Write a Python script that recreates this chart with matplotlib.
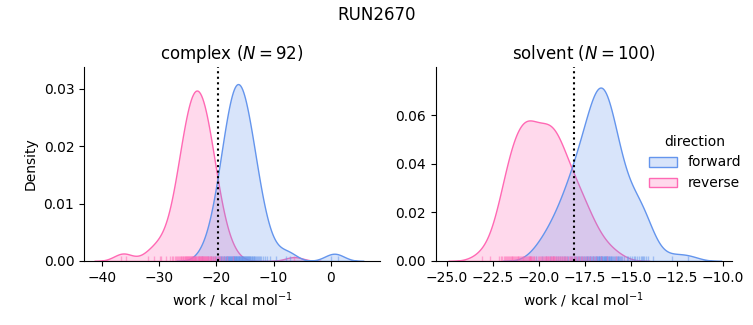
import matplotlib
matplotlib.use("Agg")
import matplotlib.pyplot as plt
import pandas as pd
import seaborn as sns

run_name = "RUN2670"
phases = ["complex", "solvent"]
directions = ["forward", "reverse"]
palette = {"forward": "cornflowerblue", "reverse": "hotpink"}

complex_forward = [
    -22.47, -21.44, -20.90, -20.53, -20.23, -19.98, -19.76, -19.57, -19.39, -19.24,
    -19.09, -18.95, -18.82, -18.70, -18.59, -18.47, -18.37, -18.26, -18.17, -18.06,
    -17.97, -17.88, -17.79, -17.71, -17.62, -17.53, -17.45, -17.37, -17.29, -17.22,
    -17.13, -17.06, -16.99, -16.91, -16.83, -16.75, -16.69, -16.61, -16.54, -16.47,
    -16.40, -16.32, -16.26, -16.19,
    -16.11, -16.03, -15.97, -15.89, -15.81, -15.74, -15.67, -15.58, -15.52, -15.43,
    -15.35, -15.28, -15.19, -15.12, -15.03, -14.95, -14.87, -14.79, -14.70, -14.60,
    -14.52, -14.42, -14.34, -14.23, -14.14, -14.03, -13.93, -13.82, -13.71, -13.59,
    -13.47, -13.35, -13.20, -13.07, -12.91, -12.74, -12.56, -12.36, -12.13, -11.87,
    -11.55, -11.16, -10.59, -9.52,
    -7.85, -7.05, -0.02, 1.26,
]
complex_reverse = [
    -29.74, -28.72, -28.17, -27.80, -27.49, -27.25, -27.02, -26.84, -26.66, -26.50,
    -26.35, -26.22, -26.09, -25.96, -25.85, -25.73, -25.63, -25.53, -25.41, -25.32,
    -25.23, -25.14, -25.05, -24.95, -24.87, -24.79, -24.71, -24.62, -24.55, -24.47,
    -24.38, -24.32, -24.24, -24.16, -24.08, -24.01, -23.94, -23.86, -23.80, -23.72,
    -23.65, -23.58, -23.51,
    -23.29, -23.22, -23.15, -23.08, -23.00, -22.95, -22.86, -22.79, -22.72, -22.64,
    -22.56, -22.48, -22.42, -22.33, -22.25, -22.17, -22.09, -22.01, -21.93, -21.85,
    -21.75, -21.67, -21.57, -21.48, -21.39, -21.27, -21.18, -21.07, -20.95, -20.84,
    -20.71, -20.58, -20.45, -20.30, -20.14, -19.96, -19.78, -19.55, -19.31, -19.00,
    -18.63, -18.08, -17.06,
    -36.70, -35.80, -32.00, -30.90, -29.90, -6.40,
]
solvent_forward = [
    -20.15, -19.82, -19.58, -19.41, -19.24, -19.08,
    -18.94, -18.84, -18.74, -18.64, -18.55,
    -18.46, -18.39, -18.32, -18.25, -18.18, -18.11, -18.04,
    -17.97, -17.92, -17.86, -17.81, -17.75, -17.70, -17.64, -17.59, -17.53,
    -17.48, -17.44, -17.40, -17.36, -17.32, -17.28, -17.24, -17.19, -17.15, -17.11,
    -17.07, -17.03,
    -16.98, -16.95, -16.91, -16.88, -16.85, -16.81, -16.78, -16.75, -16.71, -16.70,
    -16.68, -16.64, -16.61, -16.60, -16.58, -16.55, -16.52,
    -16.48, -16.44, -16.41, -16.40, -16.37, -16.34, -16.30, -16.27, -16.23,
    -16.19, -16.16, -16.12, -16.09, -16.05, -16.02,
    -15.97, -15.92, -15.87, -15.82, -15.77, -15.72, -15.67, -15.62, -15.57, -15.52,
    -15.46, -15.38, -15.21, -15.13, -15.05,
    -14.95, -14.85, -14.76, -14.66, -14.56,
    -14.46, -14.40, -14.36, -14.27, -14.17, -14.07,
    -13.78, -12.74, -11.88,
]
solvent_reverse = [
    -23.10, -22.62, -22.14, -22.05,
    -21.97, -21.91, -21.85, -21.80, -21.74, -21.68, -21.62, -21.57, -21.52,
    -21.47, -21.43, -21.38, -21.34, -21.29, -21.24, -21.20,
    -21.15, -21.11, -21.06, -21.02,
    -20.97, -20.92, -20.87, -20.83, -20.78, -20.73, -20.68, -20.64, -20.59, -20.55,
    -20.51, -20.50,
    -20.47, -20.46, -20.43, -20.42, -20.38, -20.33, -20.28, -20.23, -20.13, -20.05,
    -20.01,
    -19.95, -19.89, -19.84, -19.78, -19.73, -19.68, -19.63, -19.58, -19.54, -19.51,
    -19.47, -19.43, -19.39, -19.35, -19.31, -19.27, -19.23, -19.20, -19.18, -19.15,
    -19.13, -19.08, -19.03,
    -18.97, -18.91, -18.86, -18.80, -18.75, -18.69, -18.63, -18.58, -18.52,
    -18.45, -18.38, -18.31, -18.24, -18.17, -18.10, -18.03,
    -17.95, -17.87, -17.79, -17.71, -17.63, -17.55,
    -17.43, -17.31, -17.19, -17.07, -16.88, -16.64, -16.27, -15.80,
]

# free energy estimate shown as dotted line
delta_g = {"complex": -19.75, "solvent": -18.10}
xlims = {"complex": (-43.1, 8.6), "solvent": (-25.58, -9.51)}
ylims = {"complex": (0, 0.0338), "solvent": (0, 0.0799)}

works = {
    ("complex", "forward"): complex_forward,
    ("complex", "reverse"): complex_reverse,
    ("solvent", "forward"): solvent_forward,
    ("solvent", "reverse"): solvent_reverse,
}
rows = []
for (phase, direction), vals in works.items():
    for w in vals:
        rows.append({"phase": phase, "direction": direction, "work": w})
df = pd.DataFrame(rows)

g = sns.displot(df, x="work", hue="direction", col="phase", kind="kde",
                fill=True, rug=True, rug_kws=dict(alpha=0.5),
                palette=palette, hue_order=directions, col_order=phases,
                facet_kws=dict(sharex=False, sharey=False))

g.figure.set_size_inches(7.53, 3.25)
g.figure.subplots_adjust(left=0.1116, right=0.972, bottom=0.197, top=0.794, wspace=0.189)

for ax, phase in zip(g.axes.flat, phases):
    n = len(works[(phase, "reverse")])
    ax.set_title(f"{phase} ($N = {n}$)", fontsize=12)
    ax.axvline(delta_g[phase], color="k", ls=":")
    ax.set_xlim(*xlims[phase])
    ax.set_ylim(*ylims[phase])
    ax.set_xlabel("work / kcal mol$^{-1}$")
g.axes.flat[0].set_ylabel("Density")
g.axes.flat[1].set_ylabel("")

sns.move_legend(g, "center left", bbox_to_anchor=(0.845, 0.5), frameon=False)
g.figure.suptitle(run_name, fontsize=12)

g.figure.savefig("out.png", dpi=100)
